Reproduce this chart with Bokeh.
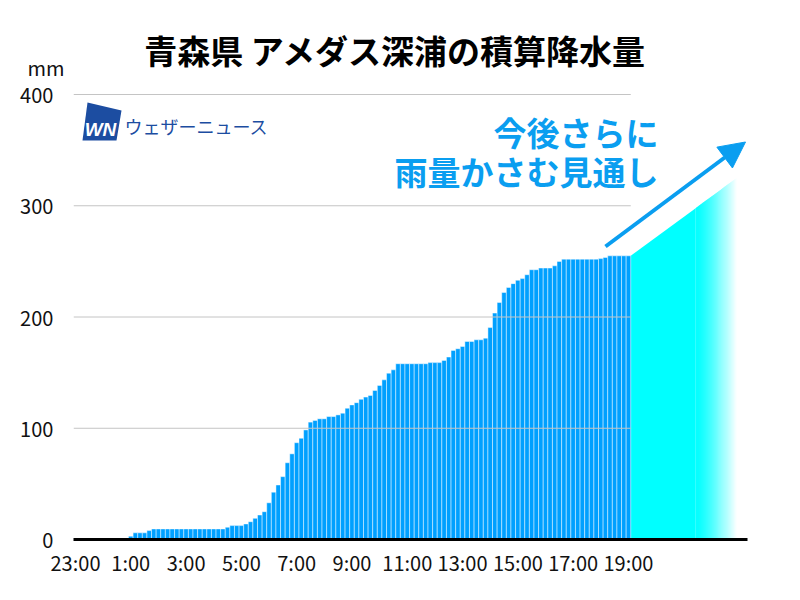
from bokeh.plotting import figure
from bokeh.models import Label, Arrow, NormalHead, FixedTicker, Range1d
from bokeh.embed import file_html
from bokeh.resources import INLINE

# ---------------- data ----------------
def tk(hhmm):
    h, m = map(int, hhmm.split(":"))
    return ((h * 60 + m) - 23 * 60) % 1440 / 10.0

times = []
for i in range(121):
    mins = (23 * 60 + i * 10) % 1440
    times.append(f"{mins // 60}:{mins % 60:02d}")

# cumulative precipitation (mm), 10-minute steps from 23:00 to 19:00
rain_cum = [
    0, 0, 0, 0, 0, 0,                       # 23:00
    0, 0, 0, 0, 0, 0,                       # 0:00
    3, 6, 6, 6, 8, 9.5,                     # 1:00
    9.5, 9.5, 9.5, 9.5, 9.5, 9.5,           # 2:00
    9.5, 9.5, 9.5, 9.5, 9.5, 9.5,           # 3:00
    9.5, 9.5, 9.5, 11, 12.5, 12.5,          # 4:00
    12.5, 14, 16, 19, 22, 25,               # 5:00
    33, 42.5, 49, 56.5, 69, 77,             # 6:00
    87, 91, 98.5, 105.5, 107, 108.5,        # 7:00
    108.5, 110.5, 110.5, 112, 113.5, 118,   # 8:00
    121, 123, 126, 128, 129.5, 134,         # 9:00
    138.5, 143.5, 149.5, 152.5, 158, 158,   # 10:00
    158, 158, 158, 158, 158, 159,           # 11:00
    159, 159, 161, 164, 170, 171.5,         # 12:00
    173.5, 178, 178, 179.5, 179.5, 181,     # 13:00
    190.5, 203.5, 213, 222, 226.5, 230,     # 14:00
    233, 234.5, 238, 242.5, 242.5, 244,     # 15:00
    244, 244, 246, 250, 252, 252,           # 16:00
    252, 252, 252, 252, 252, 252,           # 17:00
    252.5, 253.5, 255, 255, 255, 255,       # 18:00
    255,                                    # 19:00
]

tick_labels = ["23:00", "1:00", "3:00", "5:00", "7:00", "9:00",
               "11:00", "13:00", "15:00", "17:00", "19:00"]
y_ticks = [0, 100, 200, 300, 400]
grid_values = [100, 200, 300, 400]
unit_label = "mm"

# forecast wedge (start just after the last bar, end value)
forecast_times = ["19:05", "22:55"]
forecast_values = [255, 325]
fade_start_time = "21:25"

title_text = "青森県 アメダス深浦の積算降水量"
note_lines = ["今後さらに", "雨量かさむ見通し"]

# ---------------- layout ----------------
FL, FR, FB = 73, 53, 61
FW = 800 - FL - FR
FH = 600 - FB
X0 = -0.434
X1 = X0 + FW / 4.608
Y1 = FH / 1.1125

def px2x(px):
    return X0 + (px - FL) * (X1 - X0) / FW

def py2y(py):
    return (FH - py) * Y1 / FH

FONT = "Noto Sans CJK JP"
BAR = "#00A0FF"
NOTE = "#0A9EF0"

p = figure(width=800, height=600, title=None,
           x_range=Range1d(X0, X1), y_range=Range1d(0, Y1),
           output_backend="svg", toolbar_location=None,
           min_border_left=FL, min_border_right=FR,
           min_border_bottom=FB, min_border_top=0)
p.outline_line_color = None
p.grid.visible = False
p.background_fill_color = "white"
p.border_fill_color = "white"

# axes
p.xaxis.ticker = FixedTicker(ticks=[tk(t) for t in tick_labels])
p.xaxis.major_label_overrides = {int(tk(t)): t for t in tick_labels}
p.xaxis.major_tick_line_color = None
p.xaxis.minor_tick_line_color = None
p.xaxis.axis_line_color = "black"
p.xaxis.axis_line_width = 3
p.xaxis.major_label_text_font = FONT
p.xaxis.major_label_text_font_size = "20px"
p.xaxis.major_label_text_color = "#111111"
p.xaxis.major_label_standoff = 2

# the unit "mm" sits above the 400 label, shown as an extra y-axis label
unit_pos = py2y(67)
p.yaxis.ticker = FixedTicker(ticks=y_ticks + [unit_pos])
overrides = {v: f"{v}\u2007" for v in y_ticks}
overrides[unit_pos] = unit_label
p.yaxis.major_label_overrides = overrides
p.yaxis.axis_line_color = None
p.yaxis.major_tick_line_color = None
p.yaxis.minor_tick_line_color = None
p.yaxis.major_label_text_font = FONT
p.yaxis.major_label_text_font_size = "20px"
p.yaxis.major_label_text_color = "#111111"
p.yaxis.major_label_standoff = 3

# forecast wedge: solid part + fading strips
def wedge_top(k):
    k0, k1 = tk(forecast_times[0]), tk(forecast_times[1])
    v0, v1 = forecast_values
    return v0 + (v1 - v0) * (k - k0) / (k1 - k0)

ks = tk(forecast_times[0])
kf = tk(fade_start_time)
ke = tk(forecast_times[1])
p.patch([ks, kf, kf, ks], [wedge_top(ks), wedge_top(kf), 0, 0],
        fill_color="#00FFFF", line_color=None)
N = 40
xs_list, ys_list, cols = [], [], []
step = (ke - kf) / N
for i in range(N):
    a = kf + i * step
    b = a + step * (1.6 if i < N - 1 else 1.0)
    b = min(b, ke)
    t = (i + 0.5) / N
    t = t ** 1.3
    r = int(round(255 * t))
    xs_list.append([a, b, b, a])
    ys_list.append([wedge_top(a), wedge_top(b), 0, 0])
    cols.append(f"#{r:02x}ffff")
p.patches(xs_list, ys_list, fill_color=cols, line_color=None)

# bars
p.vbar(x=list(range(len(rain_cum))), top=rain_cum, width=1.0,
       fill_color=BAR, line_color="white", line_alpha=0.45, line_width=1)

# grid lines drawn over bars, only across the observed period
p.segment(x0=[X0] * len(grid_values), y0=grid_values,
          x1=[tk("19:05")] * len(grid_values), y1=grid_values,
          line_color="#c4c4c4", line_width=1)

# arrow
p.add_layout(Arrow(x_start=px2x(605), y_start=py2y(246),
                   x_end=px2x(745), y_end=py2y(141.5),
                   line_color=NOTE, line_width=4,
                   end=NormalHead(size=26, fill_color=NOTE, line_color=NOTE)))

# title
p.add_layout(Label(x=px2x(395), y=py2y(49), text=title_text,
                   text_align="center", text_baseline="middle",
                   text_font=FONT, text_font_style="bold",
                   text_font_size="33px", text_color="black"))

# notes
p.add_layout(Label(x=px2x(658), y=py2y(131), text=note_lines[0],
                   text_align="right", text_baseline="middle",
                   text_font=FONT, text_font_style="bold",
                   text_font_size="33px", text_color=NOTE))
p.add_layout(Label(x=px2x(658), y=py2y(170), text=note_lines[1],
                   text_align="right", text_baseline="middle",
                   text_font=FONT, text_font_style="bold",
                   text_font_size="33px", text_color=NOTE))

# logo
LOGO = "#1C4DA1"
p.patch([px2x(87), px2x(121), px2x(116), px2x(82)],
        [py2y(102), py2y(110), py2y(140), py2y(140)],
        fill_color=LOGO, line_color=None)
p.add_layout(Label(x=px2x(100), y=py2y(129), text="WN",
                   text_align="center", text_baseline="middle",
                   text_font="Liberation Sans", text_font_style="bold italic",
                   text_font_size="19px", text_color="white"))
p.add_layout(Label(x=px2x(124), y=py2y(125), text="ウェザーニュース",
                   text_align="left", text_baseline="middle",
                   text_font=FONT, text_font_size="18px", text_color=LOGO))

open("out.html", "w").write(file_html(p, INLINE))
